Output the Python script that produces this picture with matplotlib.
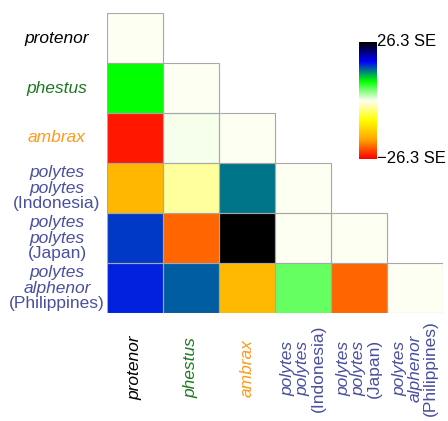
import numpy as np
import matplotlib.pyplot as plt
from matplotlib.colors import LinearSegmentedColormap
from matplotlib.patches import Rectangle
import matplotlib.transforms as mtransforms

plt.rcParams['font.family'] = ['Liberation Sans', 'DejaVu Sans']

# taxon labels, one entry per line: (text, italic)
taxa = [
    [("protenor", True)],
    [("phestus", True)],
    [("ambrax", True)],
    [("polytes", True), ("polytes", True), ("(Indonesia)", False)],
    [("polytes", True), ("polytes", True), ("(Japan)", False)],
    [("polytes", True), ("alphenor", True), ("(Philippines)", False)],
]
taxon_colors = ["black", "#1e7a1e", "#ff9a1a", "#4a4f9e", "#4a4f9e", "#4a4f9e"]

nan = np.nan
# pairwise Z scores (lower triangle incl. diagonal)
z_scores = np.array([
    [0.0, nan, nan, nan, nan, nan],
    [8.8, 0.0, nan, nan, nan, nan],
    [-24.9, 0.4, 0.0, nan, nan, nan],
    [-15.7, -3.1, 13.5, 0.0, nan, nan],
    [15.6, -20.9, 26.3, 0.0, 0.0, nan],
    [16.4, 14.3, -15.5, 5.3, -20.9, 0.0],
])
z_max = 26.3

cmap = LinearSegmentedColormap.from_list(
    "se", ["#ff0000", "#ffa500", "#ffff00", "#fffff4", "#00ff00", "#0000ff", "#000000"])

fig = plt.figure(figsize=(4.48, 4.21), dpi=100)
ax = fig.add_axes([107 / 448, 1 - 313 / 421, 336 / 448, 300 / 421])

n = len(taxa)
data = np.ma.masked_invalid(z_scores)
ax.pcolormesh(np.arange(n + 1), np.arange(n + 1), data, cmap=cmap,
              vmin=-z_max, vmax=z_max)
# cell borders only where there is a value
for r in range(n):
    for c in range(n):
        if not np.isnan(z_scores[r, c]):
            ax.add_patch(Rectangle((c, r), 1, 1, fill=False, edgecolor="#a8a8a8",
                                   linewidth=0.8))
ax.set_xlim(0, n)
ax.set_ylim(n, 0)
ax.axis("off")

fs = 12.5
line_h = 15.5
# row labels
tr_y = mtransforms.blended_transform_factory(ax.transAxes, ax.transData)
for i, lines in enumerate(taxa):
    k = len(lines)
    for j, (txt, it) in enumerate(lines):
        ax.annotate(txt, xy=(0, i + 0.5), xycoords=tr_y,
                    xytext=(-50, -(j - (k - 1) / 2) * line_h), textcoords="offset pixels",
                    ha="center", va="center", fontsize=fs,
                    style="italic" if it else "normal", color=taxon_colors[i])

# column labels
tr_x = mtransforms.blended_transform_factory(ax.transData, ax.transAxes)
for i, lines in enumerate(taxa):
    k = len(lines)
    for j, (txt, it) in enumerate(lines):
        ax.annotate(txt, xy=(i + 0.5, 0), xycoords=tr_x,
                    xytext=((j - (k - 1) / 2) * line_h, -55), textcoords="offset pixels",
                    ha="center", va="center", rotation=90, fontsize=fs,
                    style="italic" if it else "normal", color=taxon_colors[i])

# colour bar
cax = fig.add_axes([359 / 448, 1 - 159 / 421, 18 / 448, 117 / 421])
grad = np.linspace(-z_max, z_max, 256).reshape(-1, 1)
cax.imshow(grad, aspect="auto", cmap=cmap, origin="lower",
           extent=[0, 1, -z_max, z_max], vmin=-z_max, vmax=z_max)
cax.axis("off")
cax.text(1.0, z_max, f"{z_max} SE", transform=cax.get_yaxis_transform(),
         ha="left", va="center", fontsize=12)
cax.text(1.0, -z_max, f"\u2212{z_max} SE", transform=cax.get_yaxis_transform(),
         ha="left", va="center", fontsize=12)

fig.savefig("out.png", dpi=100)
